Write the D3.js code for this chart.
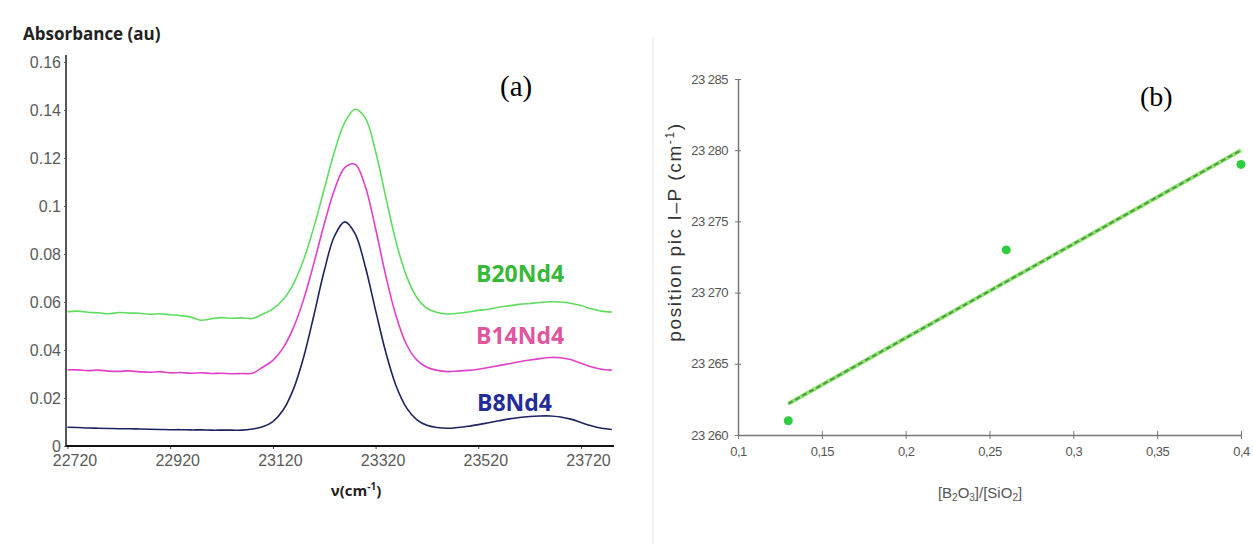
<!DOCTYPE html>
<html><head><meta charset="utf-8">
<script src="https://cdn.jsdelivr.net/npm/d3@7/dist/d3.min.js"></script>
<style>
body{margin:0;background:#fff;}
svg{display:block;}
</style></head>
<body>
<svg id="c" width="1253" height="544"></svg>
<script>
// ---------- Panel (a) data ----------
const wavenumbers = [22720,22740,22760,22780,22800,22820,22840,22860,22880,22900,22920,22940,22960,22980,23000,23020,23040,23060,23080,23100,23120,23140,23160,23180,23200,23220,23240,23260,23280,23300,23320,23340,23360,23380,23400,23420,23440,23460,23480,23500,23520,23540,23560,23580,23600,23620,23640,23660,23680,23700,23720,23740,23760,23780];
const B20Nd4 = [0.0560,0.0562,0.0557,0.0555,0.0551,0.0556,0.0554,0.0553,0.0549,0.0551,0.0547,0.0543,0.0537,0.0524,0.0530,0.0535,0.0532,0.0534,0.0531,0.0549,0.0571,0.0610,0.0676,0.0777,0.0913,0.1071,0.1227,0.1348,0.1403,0.1366,0.1227,0.1035,0.0849,0.0709,0.0620,0.0574,0.0556,0.0550,0.0553,0.0558,0.0565,0.0570,0.0578,0.0584,0.0590,0.0594,0.0598,0.0601,0.0600,0.0595,0.0585,0.0572,0.0562,0.0558];
const B14Nd4 = [0.0318,0.0317,0.0314,0.0316,0.0312,0.0311,0.0313,0.0309,0.0307,0.0310,0.0305,0.0306,0.0303,0.0305,0.0302,0.0303,0.0301,0.0302,0.0303,0.0328,0.0357,0.0409,0.0493,0.0612,0.0763,0.0925,0.1068,0.1160,0.1174,0.1081,0.0905,0.0708,0.0541,0.0424,0.0359,0.0328,0.0315,0.0310,0.0312,0.0315,0.0320,0.0327,0.0335,0.0343,0.0351,0.0358,0.0364,0.0369,0.0368,0.0360,0.0345,0.0330,0.0320,0.0316];
const B8Nd4 = [0.0078,0.0077,0.0075,0.0074,0.0073,0.0072,0.0072,0.0071,0.0070,0.0069,0.0068,0.0068,0.0067,0.0067,0.0066,0.0066,0.0066,0.0066,0.0071,0.0080,0.0102,0.0150,0.0237,0.0371,0.0546,0.0730,0.0875,0.0934,0.0885,0.0747,0.0565,0.0389,0.0250,0.0160,0.0110,0.0086,0.0077,0.0074,0.0077,0.0082,0.0089,0.0097,0.0105,0.0113,0.0119,0.0123,0.0125,0.0125,0.0121,0.0112,0.0098,0.0084,0.0074,0.0069];
const seriesNames = ["B20Nd4","B14Nd4","B8Nd4"];
const xTicksA = [22720,22920,23120,23320,23520,23720];
const yTicksA = [0,0.02,0.04,0.06,0.08,0.1,0.12,0.14,0.16];
const yTickLabelsA = ["0","0.02","0.04","0.06","0.08","0.1","0.12","0.14","0.16"];

// ---------- Panel (b) data ----------
const ratioB2O3SiO2 = [0.13,0.26,0.40];
const peakPosition = [23261,23273,23279];
const trendX = [0.13,0.40];
const trendY = [23262.2,23280.0];
const xTicksB = [0.1,0.15,0.2,0.25,0.3,0.35,0.4];
const xTickLabelsB = ["0,1","0,15","0,2","0,25","0,3","0,35","0,4"];
const yTicksB = [23260,23265,23270,23275,23280,23285];
const yTickLabelsB = ["23 260","23 265","23 270","23 275","23 280","23 285"];

const svg = d3.select("#c");

// ================= Panel (a) =================
const xA = d3.scaleLinear().domain([22720,23780]).range([67.5,611.8]);
const yA = d3.scaleLinear().domain([0,0.16]).range([446,62]);
const lineColors = {B20Nd4:"#5fdc5f", B14Nd4:"#e040c8", B8Nd4:"#1c2460"};
const labelColors = {B20Nd4:"#38b838", B14Nd4:"#e0559e", B8Nd4:"#232c9a"};
const seriesData = {B20Nd4, B14Nd4, B8Nd4};

const gA = svg.append("g");
gA.append("text").attr("x",23).attr("y",40).text("Absorbance (au)")
  .attr("font-family","'Open Sans',sans-serif").attr("font-weight","bold").attr("font-size",17).attr("fill","#222");

const yAxisA = d3.axisLeft(yA).tickValues(yTicksA).tickFormat((d,i)=>yTickLabelsA[i]).tickSize(2).tickPadding(3);
const gyA = gA.append("g").attr("transform","translate(66,0)").call(yAxisA);
gyA.select(".domain").remove();
gyA.selectAll("text").attr("font-family","'Liberation Sans',Arial,sans-serif").attr("font-size",16).attr("fill","#5a5a5a");
gyA.selectAll("line").attr("stroke","#666");
gA.append("line").attr("x1",66).attr("x2",66).attr("y1",55).attr("y2",447).attr("stroke","#555").attr("stroke-width",2);

const xAxisA = d3.axisBottom(xA).tickValues(xTicksA).tickFormat(d3.format("d")).tickSize(3).tickPadding(6);
const gxA = gA.append("g").attr("transform","translate(0,446)").call(xAxisA);
gxA.select(".domain").remove();
gxA.selectAll("text").attr("font-family","'Liberation Sans',Arial,sans-serif").attr("font-size",16).attr("fill","#5a5a5a").attr("dx",7);
gxA.selectAll("line").attr("stroke","#444");
gA.append("line").attr("x1",66).attr("x2",614).attr("y1",446).attr("y2",446).attr("stroke","#111").attr("stroke-width",1.8);

const xl = gA.append("text").attr("x",356).attr("y",496).attr("text-anchor","middle")
  .attr("font-family","'Open Sans',sans-serif").attr("font-weight","bold").attr("font-size",15).attr("fill","#222");
xl.append("tspan").text("ν(cm");
xl.append("tspan").text("-1").attr("font-size",10).attr("dy",-6);
xl.append("tspan").text(")").attr("dy",6);

const lineA = d3.line().x((d,i)=>xA(wavenumbers[i])).y(d=>yA(d)).curve(d3.curveCatmullRom);
seriesNames.forEach(n=>{
  gA.append("path").datum(seriesData[n]).attr("d",lineA).attr("fill","none")
    .attr("stroke",lineColors[n]).attr("stroke-width",1.6);
});

const labelPos = {B20Nd4:[476,282], B14Nd4:[476,344], B8Nd4:[477,411]};
seriesNames.forEach(n=>{
  gA.append("text").attr("x",labelPos[n][0]).attr("y",labelPos[n][1]).text(n)
    .attr("font-family","'Open Sans',sans-serif").attr("font-weight","bold").attr("font-size",23).attr("fill",labelColors[n]);
});
gA.append("text").attr("x",500).attr("y",96).text("(a)")
  .attr("font-family","'Liberation Serif','Times New Roman',serif").attr("font-size",29).attr("fill","#000");

// ================= Panel (b) =================
svg.append("line").attr("x1",653).attr("x2",653).attr("y1",38).attr("y2",544).attr("stroke","#e6e6e6").attr("stroke-width",1);

const xB = d3.scaleLinear().domain([0.1,0.4]).range([738,1241]);
const yB = d3.scaleLinear().domain([23260,23285]).range([435,79]);
const gB = svg.append("g");

const yAxisB = d3.axisLeft(yB).tickValues(yTicksB).tickFormat((d,i)=>yTickLabelsB[i]).tickSizeInner(3).tickSizeOuter(0).tickPadding(7);
const gyB = gB.append("g").attr("transform","translate(738,0)").call(yAxisB);
gyB.select(".domain").attr("stroke","#777").attr("stroke-width",1.5);
gyB.selectAll(".tick line").attr("stroke","#777").attr("x2",3).attr("x1",-3);
gyB.selectAll("text").attr("font-family","'Liberation Sans Narrow','Liberation Sans',Arial,sans-serif").attr("font-size",13).attr("fill","#555").attr("letter-spacing",-0.5);

const xAxisB = d3.axisBottom(xB).tickValues(xTicksB).tickFormat((d,i)=>xTickLabelsB[i]).tickSizeInner(3).tickSizeOuter(0).tickPadding(9);
const gxB = gB.append("g").attr("transform","translate(0,435)").call(xAxisB);
gxB.select(".domain").attr("stroke","#777").attr("stroke-width",1.5);
gxB.selectAll(".tick line").attr("stroke","#777").attr("y1",-4).attr("y2",4);
gxB.selectAll("text").attr("font-family","'Liberation Sans Narrow','Liberation Sans',Arial,sans-serif").attr("font-size",13).attr("fill","#555").attr("letter-spacing",-0.5);

const ylB = gB.append("text").attr("transform","translate(681,232) rotate(-90)").attr("text-anchor","middle")
  .attr("font-family","'Liberation Sans',Arial,sans-serif").attr("font-size",19).attr("letter-spacing",1.6).attr("fill","#333");
ylB.append("tspan").text("position pic I–P (cm");
ylB.append("tspan").text("-1").attr("font-size",12).attr("dy",-7);
ylB.append("tspan").text(")").attr("dy",7);

const xlB = gB.append("text").attr("x",980).attr("y",498).attr("text-anchor","middle")
  .attr("font-family","'Liberation Sans',Arial,sans-serif").attr("font-size",15).attr("fill","#555");
xlB.append("tspan").text("[B");
xlB.append("tspan").text("2").attr("font-size",10).attr("dy",3);
xlB.append("tspan").text("O").attr("dy",-3);
xlB.append("tspan").text("3").attr("font-size",10).attr("dy",3);
xlB.append("tspan").text("]/[SiO").attr("dy",-3);
xlB.append("tspan").text("2").attr("font-size",10).attr("dy",3);
xlB.append("tspan").text("]").attr("dy",-3);

gB.append("line").attr("x1",xB(trendX[0])).attr("y1",yB(trendY[0])).attr("x2",xB(trendX[1])).attr("y2",yB(trendY[1]))
  .attr("stroke","#8ee46a").attr("stroke-width",4);
gB.append("line").attr("x1",xB(trendX[0])).attr("y1",yB(trendY[0])).attr("x2",xB(trendX[1])).attr("y2",yB(trendY[1]))
  .attr("stroke","#4a9a4a").attr("stroke-width",2).attr("stroke-dasharray","5,3");

gB.selectAll("circle").data(ratioB2O3SiO2).enter().append("circle")
  .attr("cx",d=>xB(d)).attr("cy",(d,i)=>yB(peakPosition[i])).attr("r",4.5).attr("fill","#2ecc40");

gB.append("text").attr("x",1140).attr("y",106).text("(b)")
  .attr("font-family","'Liberation Serif','Times New Roman',serif").attr("font-size",28).attr("fill","#000");
</script>
</body></html>
